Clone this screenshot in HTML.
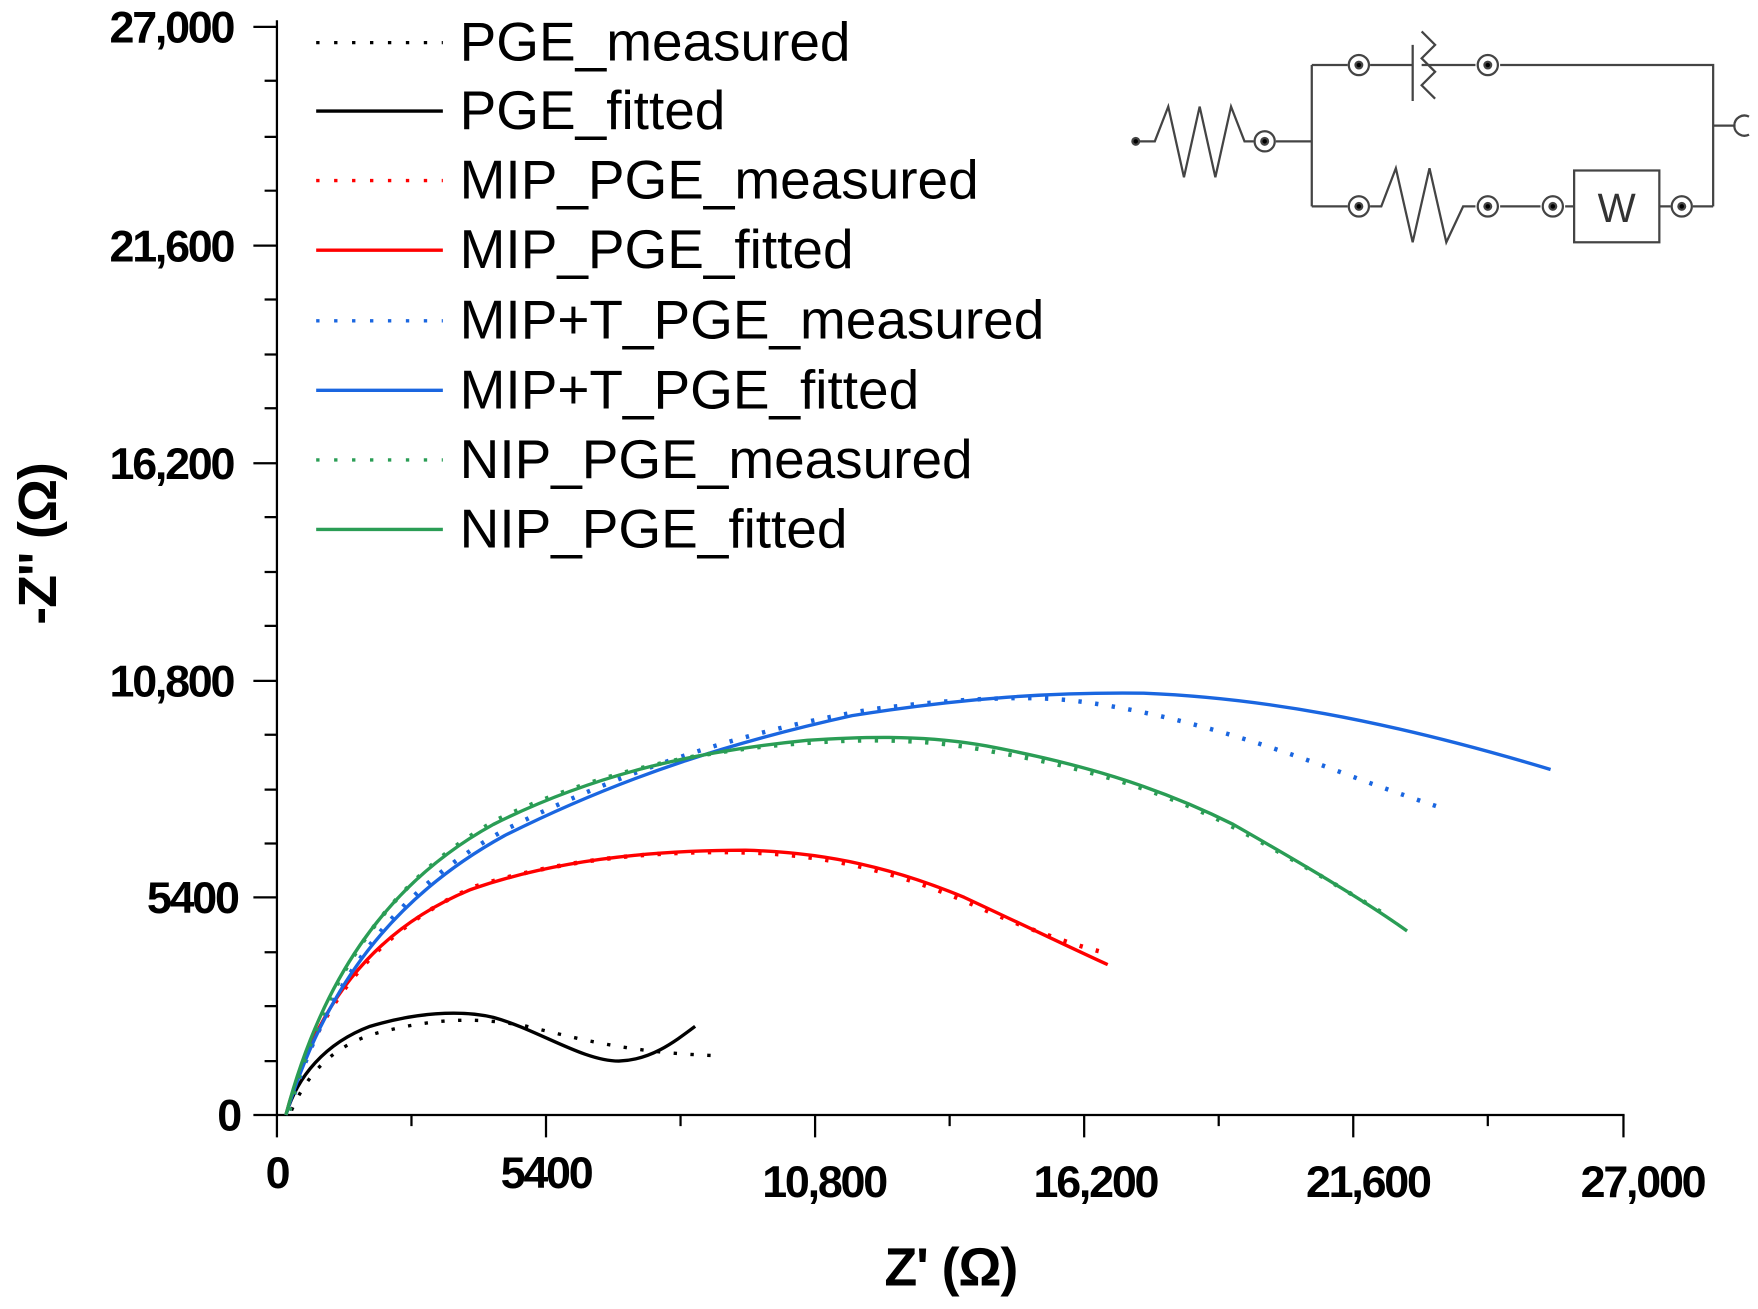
<!DOCTYPE html>
<html><head><style>html,body{margin:0;padding:0;background:#fff}svg{display:block}</style></head><body>
<svg width="1758" height="1309" viewBox="0 0 1568 1167" preserveAspectRatio="none" xmlns="http://www.w3.org/2000/svg" font-family="Liberation Sans, Arial, sans-serif">
<g stroke="#000" stroke-width="2" fill="none">
<line x1="247" y1="18" x2="247" y2="995"/><line x1="246" y1="994" x2="1449" y2="994"/>
<path d="M226 24H247M226 219H247M226 413H247M226 607H247M226 800H247M226 994H247M236 122H247M236 316H247M236 510H247M236 704H247M236 897H247M236 72H247M236 170H247M236 267H247M236 364H247M236 461H247M236 558H247M236 655H247M236 752H247M236 849H247M236 946H247"/>
<path d="M247 994V1014M487 994V1014M727 994V1014M967 994V1014M1207 994V1014M1448 994V1014M367 994V1004M607 994V1004M847 994V1004M1087 994V1004M1327 994V1004"/>
</g>
<g font-weight="bold" font-size="40" text-anchor="end" letter-spacing="-2">
<text x="208" y="38">27,000</text><text x="208" y="233">21,600</text><text x="208" y="427">16,200</text><text x="208" y="621">10,800</text><text x="212" y="814">5400</text><text x="214" y="1008">0</text>
</g>
<g font-weight="bold" font-size="40" text-anchor="middle" letter-spacing="-2">
<text x="247" y="1059">0</text><text x="487" y="1059">5400</text><text x="735" y="1067">10,800</text><text x="977" y="1067">16,200</text><text x="1220" y="1067">21,600</text><text x="1465" y="1067">27,000</text>
</g>
<text x="848" y="1146" font-size="48" font-weight="bold" text-anchor="middle" letter-spacing="-1">Z' (Ω)</text>
<text transform="translate(50,485) rotate(-90)" font-size="48" font-weight="bold" text-anchor="middle" letter-spacing="-1">-Z'' (Ω)</text>
<g font-size="49" letter-spacing="0">
<text x="410" y="54">PGE_measured</text><text x="410" y="115">PGE_fitted</text><text x="410" y="177">MIP_PGE_measured</text><text x="410" y="239">MIP_PGE_fitted</text><text x="410" y="302">MIP+T_PGE_measured</text><text x="410" y="364">MIP+T_PGE_fitted</text><text x="410" y="426">NIP_PGE_measured</text><text x="410" y="488">NIP_PGE_fitted</text>
</g>
<g stroke-width="3" fill="none">
<line x1="282" y1="38" x2="395" y2="38" stroke="#000" stroke-dasharray="3 13"/>
<line x1="282" y1="99" x2="395" y2="99" stroke="#000"/>
<line x1="282" y1="161" x2="395" y2="161" stroke="#f00" stroke-dasharray="3 13"/>
<line x1="282" y1="223" x2="395" y2="223" stroke="#f00"/>
<line x1="282" y1="286" x2="395" y2="286" stroke="#1a66e0" stroke-dasharray="3 13"/>
<line x1="282" y1="348" x2="395" y2="348" stroke="#1a66e0"/>
<line x1="282" y1="410" x2="395" y2="410" stroke="#2a9d55" stroke-dasharray="3 13"/>
<line x1="282" y1="472" x2="395" y2="472" stroke="#2a9d55"/>
</g>
<g fill="none" stroke-width="3" stroke-linejoin="round">
<path stroke="#000" d="M255 994C265 960 290 930 330 915C370 903 410 900 440 907C480 918 520 946 552 946C580 945 600 930 620 915"/>
<path stroke="#000" stroke-dasharray="3 12" d="M260 990C275 955 300 930 340 920C380 910 420 905 470 915C520 927 560 938 635 941"/>
<path stroke="#f00" d="M255 994C280 900 330 830 420 793C500 765 590 758 665 758C740 760 800 775 860 800C920 828 955 845 988 860"/>
<path stroke="#f00" stroke-dasharray="3 12" stroke-width="4" d="M258 990C280 900 335 828 425 790C505 765 590 758 665 760C740 762 800 778 860 803C915 828 950 840 980 848"/>
<path stroke="#1a66e0" d="M255 994C290 880 350 800 450 745C560 690 660 660 760 638C860 622 940 617 1020 618C1120 622 1230 640 1383 686"/>
<path stroke="#1a66e0" stroke-dasharray="3 12" stroke-width="4" d="M258 990C290 880 350 795 450 740C560 685 670 650 780 632C860 622 920 620 960 625C1040 635 1120 660 1200 690C1240 705 1270 715 1285 720"/>
<path stroke="#2a9d55" d="M255 994C285 880 340 790 440 735C530 690 620 670 720 660C780 656 830 656 880 665C960 680 1030 700 1100 735C1170 775 1220 805 1255 830"/>
<path stroke="#2a9d55" stroke-dasharray="3 12" stroke-width="4" d="M258 990C288 875 345 785 445 730C535 688 625 668 725 662C785 658 835 660 885 670C965 684 1035 703 1105 740C1170 775 1210 800 1235 815"/>
</g>
<g stroke="#444" stroke-width="2" fill="none">
<circle cx="1013" cy="126" r="3" fill="#000"/>
<path d="M1016 126H1030L1042 95L1056 158L1070 95L1084 158L1098 95L1110 126H1118"/>
<circle cx="1128" cy="126" r="9"/><circle cx="1128" cy="126" r="3" fill="#000"/>
<path d="M1138 126H1170M1170 58V184M1170 58H1202M1222 58H1260M1260 40V90M1268 58H1316M1338 58H1528V184M1528 112H1548"/>
<path d="M1268 28L1280 40L1268 52L1280 64L1268 76L1280 88"/>
<circle cx="1212" cy="58" r="9"/><circle cx="1212" cy="58" r="3" fill="#000"/>
<circle cx="1327" cy="58" r="9"/><circle cx="1327" cy="58" r="3" fill="#000"/>
<path d="M1170 184H1202M1222 184H1232L1245 150L1260 216L1275 150L1290 216L1305 184H1316M1338 184H1374M1396 184H1404M1480 184H1490M1510 184H1528"/>
<circle cx="1212" cy="184" r="9"/><circle cx="1212" cy="184" r="3" fill="#000"/>
<circle cx="1327" cy="184" r="9"/><circle cx="1327" cy="184" r="3" fill="#000"/>
<circle cx="1385" cy="184" r="9"/><circle cx="1385" cy="184" r="3" fill="#000"/>
<circle cx="1500" cy="184" r="9"/><circle cx="1500" cy="184" r="3" fill="#000"/>
<rect x="1404" y="152" width="76" height="64"/>
<path d="M1560 104A9 9 0 1 0 1560 120"/>
</g>
<text x="1442" y="198" font-size="36" text-anchor="middle" fill="#333">W</text>
</svg>
</body></html>
